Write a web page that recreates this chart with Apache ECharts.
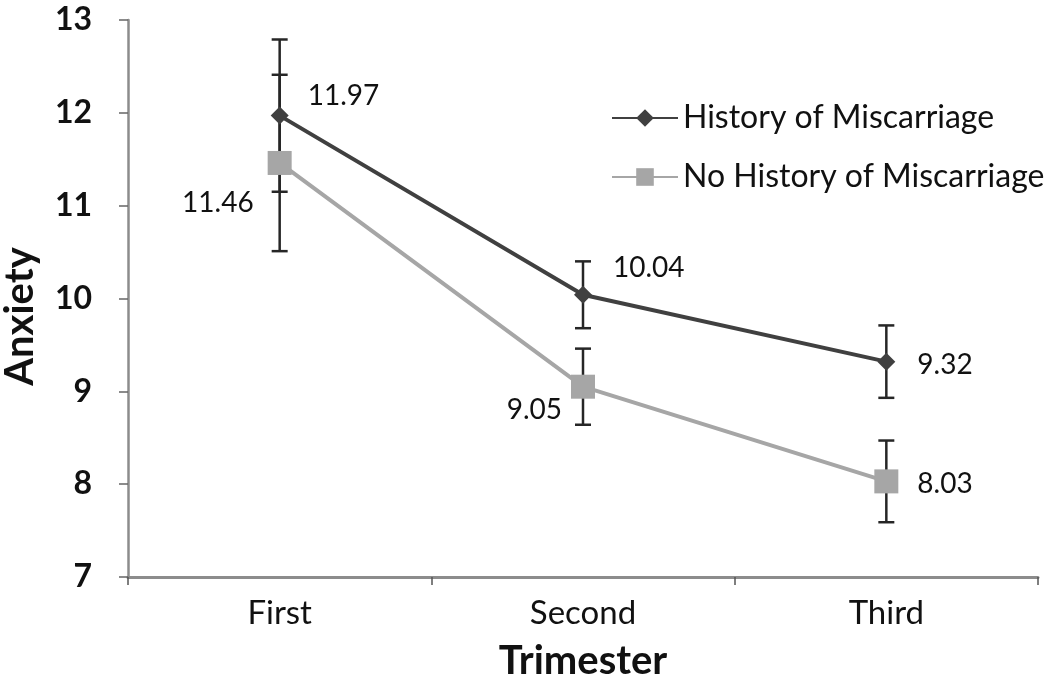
<!DOCTYPE html>
<html><head><meta charset="utf-8">
<script src="https://cdn.jsdelivr.net/npm/echarts@6/dist/echarts.min.js"></script>
<style>html,body{margin:0;padding:0;background:#fff}#c{width:1050px;height:686px}</style>
</head><body><div id="c"></div>
<script>
const categories = ['First', 'Second', 'Third'];
const historyValues = [11.97, 10.04, 9.32];
const historyErr = [0.82, 0.36, 0.39];
const noHistoryValues = [11.46, 9.05, 8.03];
const noHistoryErr = [0.95, 0.41, 0.44];
const yTicks = [7, 8, 9, 10, 11, 12, 13];

const FONT = 'Lato, "Open Sans", sans-serif';
const chart = echarts.init(document.getElementById('c'));

function errSeries(vals, errs, name) {
  return {
    type: 'custom', name: name + ' err', z: 1, silent: true,
    data: vals.map((v, i) => [i, v - errs[i], v + errs[i]]),
    renderItem: (params, api) => {
      const lo = api.coord([api.value(0), api.value(1)]);
      const hi = api.coord([api.value(0), api.value(2)]);
      const w = 8;
      const st = { stroke: '#262626', lineWidth: 2.5 };
      return { type: 'group', children: [
        { type: 'line', shape: { x1: lo[0], y1: lo[1], x2: hi[0], y2: hi[1] }, style: st },
        { type: 'line', shape: { x1: lo[0] - w, y1: lo[1], x2: lo[0] + w, y2: lo[1] }, style: st },
        { type: 'line', shape: { x1: hi[0] - w, y1: hi[1], x2: hi[0] + w, y2: hi[1] }, style: st }
      ]};
    }
  };
}

const labelBase = { show: true, color: '#111', fontFamily: FONT, fontSize: 28, formatter: p => p.value.toFixed(2) };
const histLabels = [
  { position: 'right', distance: 19, offset: [0, -20] },
  { position: 'right', distance: 21, offset: [0, -27] },
  { position: 'right', distance: 22, offset: [0, 3] }
];
const noHistLabels = [
  { position: 'left', distance: 14, offset: [0, 40] },
  { position: 'left', distance: 9, offset: [0, 23] },
  { position: 'right', distance: 19, offset: [0, 3] }
];

chart.setOption({
  animation: false,
  backgroundColor: '#fff',
  grid: { left: 128, right: 12, top: 20, bottom: 109, containLabel: false, outerBoundsMode: 'none' },
  legend: {
    orient: 'vertical', left: 606, top: 97, itemWidth: 66, itemHeight: 22, itemGap: 27,
    textStyle: { fontFamily: FONT, fontSize: 32, color: '#111' },
    data: ['History of Miscarriage', 'No History of Miscarriage']
  },
  xAxis: {
    type: 'category', data: categories, boundaryGap: true,
    name: 'Trimester', nameLocation: 'middle', nameGap: 64,
    nameTextStyle: { fontFamily: FONT, fontSize: 40, fontWeight: 'bold', color: '#111' },
    axisLine: { lineStyle: { color: '#8c8c8c', width: 3 } },
    axisTick: { show: true, length: 8, lineStyle: { color: '#555', width: 1.5 } },
    axisLabel: { fontFamily: FONT, fontSize: 33, color: '#111', margin: 20 }
  },
  yAxis: {
    type: 'value', min: yTicks[0], max: yTicks[yTicks.length - 1], interval: 1,
    name: 'Anxiety', nameLocation: 'middle', nameGap: 88, nameRotate: 90,
    nameTextStyle: { fontFamily: FONT, fontSize: 40, fontWeight: 'bold', color: '#111', padding: [0, 36, 0, 0] },
    splitLine: { show: false },
    axisLine: { show: true, lineStyle: { color: '#8c8c8c', width: 2.5 } },
    axisTick: { show: true, length: 9, lineStyle: { color: '#666', width: 1.5 } },
    axisLabel: { fontFamily: FONT, fontSize: 32, fontWeight: 'bold', color: '#111', margin: 36 }
  },
  series: [
    errSeries(historyValues, historyErr, 'History of Miscarriage'),
    errSeries(noHistoryValues, noHistoryErr, 'No History of Miscarriage'),
    {
      name: 'History of Miscarriage', type: 'line', z: 3,
      symbol: 'diamond', symbolSize: 18,
      lineStyle: { color: '#404040', width: 4 }, itemStyle: { color: '#404040' },
      data: historyValues.map((v, i) => ({ value: v, label: Object.assign({}, labelBase, histLabels[i]) }))
    },
    {
      name: 'No History of Miscarriage', type: 'line', z: 2,
      symbol: 'rect', symbolSize: 24,
      lineStyle: { color: '#a6a6a6', width: 4 }, itemStyle: { color: '#a6a6a6' },
      data: noHistoryValues.map((v, i) => ({ value: v, label: Object.assign({}, labelBase, noHistLabels[i]) }))
    }
  ]
});
</script></body></html>
